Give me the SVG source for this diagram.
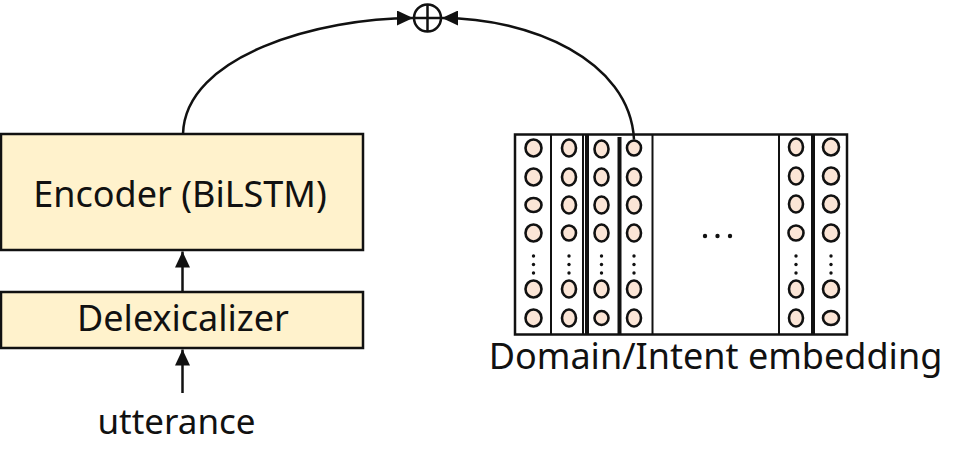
<svg xmlns="http://www.w3.org/2000/svg" width="970" height="472" viewBox="0 0 970 472">
<style>
.box{fill:#fff2cc;stroke:#111;stroke-width:2.5}
.lbl{font-family:"Noto Sans","Open Sans",sans-serif;font-size:36px;fill:#111;text-anchor:middle}
.con{fill:none;stroke:#111;stroke-width:2.5}
.thick{stroke:#111;stroke-width:4}
.thin{stroke:#111;stroke-width:2}
.n{fill:#fbe5d6;stroke:#111;stroke-width:2.6}
.d{fill:#111}
</style>
<defs>
<marker id="ah" markerUnits="userSpaceOnUse" markerWidth="17" markerHeight="15" refX="16" refY="7.5" orient="auto">
<path d="M0,0 L16,7.5 L0,15 z" fill="#111"/>
</marker>
</defs>
<g id="encoder">
<rect class="box" x="1" y="134" width="362" height="116"/>
<text class="lbl" x="180" y="207">Encoder (BiLSTM)</text>
</g>
<g id="delexicalizer">
<rect class="box" x="1" y="292" width="362" height="56"/>
<text class="lbl" x="183" y="331">Delexicalizer</text>
</g>
<g id="utterance">
<text class="lbl" x="176.5" y="434" style="font-size:35px">utterance</text>
</g>
<g id="oplus">
<circle cx="427.5" cy="18" r="13.5" fill="#fff" stroke="#111" stroke-width="2.5"/>
<line x1="414" y1="18" x2="441" y2="18" stroke="#111" stroke-width="2.5"/>
<line x1="427.5" y1="4.5" x2="427.5" y2="31.5" stroke="#111" stroke-width="2.5"/>
</g>
<g id="embedding">
<rect x="515" y="134.5" width="332" height="200" fill="#fff" stroke="#111" stroke-width="2.5"/>
<line class="thin" x1="551" y1="134.5" x2="551" y2="334.5"/>
<line class="thin" x1="583" y1="134.5" x2="583" y2="334.5"/>
<line class="thick" x1="587" y1="134.5" x2="587" y2="334.5"/>
<line class="thick" x1="619.5" y1="137" x2="619.5" y2="334.5"/>
<line class="thin" x1="652.5" y1="134.5" x2="652.5" y2="334.5"/>
<line class="thin" x1="779" y1="134.5" x2="779" y2="334.5"/>
<line class="thick" x1="813" y1="134.5" x2="813" y2="334.5"/>
<g id="nodes">
<ellipse class="n" cx="533.5" cy="148" rx="8" ry="8.5"/>
<ellipse class="n" cx="533.5" cy="177" rx="8" ry="8.5"/>
<ellipse class="n" cx="533.5" cy="205" rx="8" ry="7"/>
<ellipse class="n" cx="533.5" cy="233" rx="8" ry="8.5"/>
<ellipse class="n" cx="533.5" cy="289" rx="8" ry="8.5"/>
<ellipse class="n" cx="533.5" cy="318" rx="8" ry="8.5"/>
<ellipse class="n" cx="569" cy="148" rx="7" ry="8.5"/>
<ellipse class="n" cx="569" cy="177" rx="7" ry="8.5"/>
<ellipse class="n" cx="569" cy="205" rx="7" ry="8.5"/>
<ellipse class="n" cx="569" cy="233" rx="7" ry="7.5"/>
<ellipse class="n" cx="569" cy="289" rx="7" ry="8.5"/>
<ellipse class="n" cx="569" cy="318" rx="7" ry="8.5"/>
<ellipse class="n" cx="601.5" cy="149" rx="7" ry="8.5"/>
<ellipse class="n" cx="601.5" cy="177" rx="7" ry="8.5"/>
<ellipse class="n" cx="601.5" cy="205" rx="7" ry="8.5"/>
<ellipse class="n" cx="601.5" cy="233" rx="7" ry="8.5"/>
<ellipse class="n" cx="601.5" cy="289" rx="7" ry="8.5"/>
<ellipse class="n" cx="601.5" cy="318" rx="7" ry="7"/>
<ellipse class="n" cx="634" cy="148" rx="7" ry="7.5"/>
<ellipse class="n" cx="634" cy="177" rx="7" ry="8.5"/>
<ellipse class="n" cx="634" cy="205" rx="7" ry="8.5"/>
<ellipse class="n" cx="634" cy="233" rx="7" ry="8.5"/>
<ellipse class="n" cx="634" cy="289" rx="7" ry="8.5"/>
<ellipse class="n" cx="634" cy="318" rx="7" ry="8.5"/>
<ellipse class="n" cx="796" cy="147" rx="7" ry="8.5"/>
<ellipse class="n" cx="796" cy="176" rx="7" ry="8.5"/>
<ellipse class="n" cx="796" cy="204" rx="7" ry="8.5"/>
<ellipse class="n" cx="796" cy="233" rx="7.5" ry="7.5"/>
<ellipse class="n" cx="796" cy="289" rx="7" ry="8.5"/>
<ellipse class="n" cx="796" cy="318" rx="7" ry="8.5"/>
<ellipse class="n" cx="831" cy="147" rx="8" ry="8.5"/>
<ellipse class="n" cx="831" cy="176" rx="8" ry="8.5"/>
<ellipse class="n" cx="831" cy="204" rx="8" ry="8.5"/>
<ellipse class="n" cx="831" cy="233" rx="8" ry="8.5"/>
<ellipse class="n" cx="831" cy="289" rx="8" ry="8.5"/>
<ellipse class="n" cx="831" cy="318" rx="8" ry="7"/>
</g>
<g id="dots">
<circle class="d" cx="533.5" cy="256" r="1.7"/><circle class="d" cx="533.5" cy="264.5" r="1.7"/><circle class="d" cx="533.5" cy="273" r="1.7"/>
<circle class="d" cx="569" cy="256" r="1.7"/><circle class="d" cx="569" cy="264.5" r="1.7"/><circle class="d" cx="569" cy="273" r="1.7"/>
<circle class="d" cx="601.5" cy="256" r="1.7"/><circle class="d" cx="601.5" cy="264.5" r="1.7"/><circle class="d" cx="601.5" cy="273" r="1.7"/>
<circle class="d" cx="634" cy="256" r="1.7"/><circle class="d" cx="634" cy="264.5" r="1.7"/><circle class="d" cx="634" cy="273" r="1.7"/>
<circle class="d" cx="796" cy="256" r="1.7"/><circle class="d" cx="796" cy="264.5" r="1.7"/><circle class="d" cx="796" cy="273" r="1.7"/>
<circle class="d" cx="831" cy="256" r="1.7"/><circle class="d" cx="831" cy="264.5" r="1.7"/><circle class="d" cx="831" cy="273" r="1.7"/>
<circle class="d" cx="705" cy="236" r="2.2"/><circle class="d" cx="717.5" cy="236" r="2.2"/><circle class="d" cx="730" cy="236" r="2.2"/>
</g>
<text class="lbl" x="715.5" y="369">Domain/Intent embedding</text>
</g>
<g id="connectors">
<path class="con" d="M183,134 C185,55 320,18 413,18" marker-end="url(#ah)"/>
<path class="con" d="M634,139.5 C630,60 530,18 442,18" marker-end="url(#ah)"/>
<line class="con" x1="182.5" y1="292" x2="182.5" y2="251.5" marker-end="url(#ah)"/>
<line class="con" x1="182.5" y1="393" x2="182.5" y2="349.5" marker-end="url(#ah)"/>
</g>
</svg>
